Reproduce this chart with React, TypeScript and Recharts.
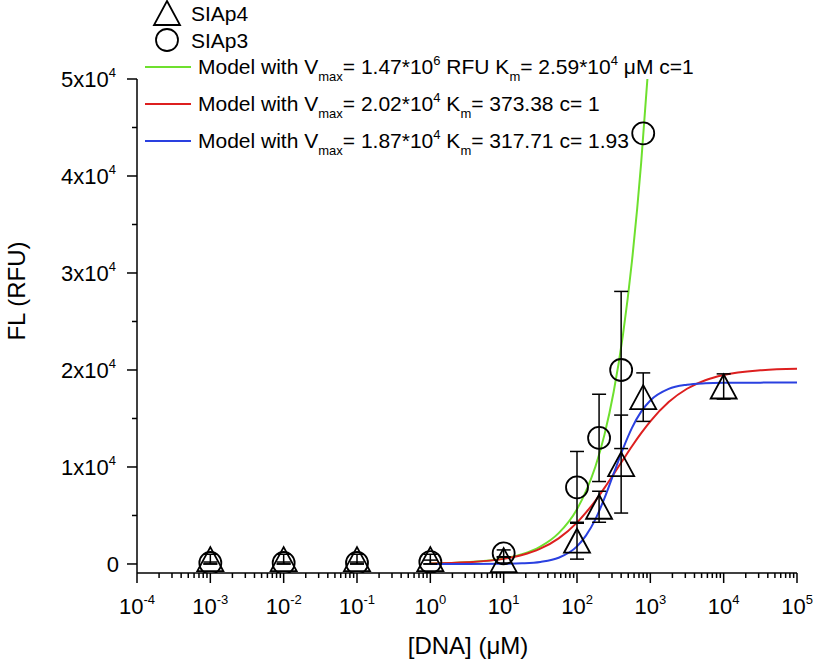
import React from 'react';
import { ComposedChart, Line, Scatter, ErrorBar, XAxis, YAxis } from 'recharts';

// measured data (SIAp3 = circles, SIAp4 = triangles)
const SIAP3_X = [0.001, 0.01, 0.1, 1, 10, 100, 200, 400, 800];
const SIAP3_Y = [100, 100, 100, 200, 1100, 7900, 13000, 20000, 44400];
const SIAP3_ERR = [100, 100, 100, 200, 350, 3700, 4500, 8100, null];

const SIAP4_X = [0.001, 0.01, 0.1, 1, 10, 100, 200, 400, 800, 10000];
const SIAP4_Y = [500, 500, 500, 500, 400, 2400, 5900, 10300, 17200, 18300];
const SIAP4_ERR = [500, 500, 500, 500, 300, 1900, 1600, 5050, 2500, 1300];

// model curves
const CURVE_X = [1, 3.16, 10, 17.8, 31.6, 56.2, 100, 133, 178, 237, 316, 422, 562, 750, 1000, 1778, 3162, 5623, 10000, 31623, 100000];
const RED_Y = [54, 170, 527, 918, 1577, 2644, 4267, 5317, 6516, 7845, 9262, 10714, 12139, 13485, 14708, 16694, 18066, 18942, 19473, 19964, 20125];
const BLUE_Y = [0, 3, 24, 71, 215, 639, 1815, 2950, 4601, 6779, 9309, 11845, 14038, 15707, 16857, 18050, 18481, 18627, 18676, 18697, 18700];
const GREEN_X = [1, 3.16, 10, 17.8, 31.6, 56.2, 100, 133, 178, 237, 316, 422, 562, 750, 912];
const GREEN_Y = [57, 179, 567, 1008, 1793, 3185, 5654, 7533, 10023, 13335, 17730, 23551, 31236, 41364, 50000];

// ticks
const X_DECADES = [1e-4, 1e-3, 1e-2, 1e-1, 1, 10, 100, 1000, 10000, 100000];
const X_EXPONENTS = ['-4', '-3', '-2', '-1', '0', '1', '2', '3', '4', '5'];
const X_MINOR_STEPS = [2, 3, 4, 5, 6, 7, 8, 9];
const Y_MAJOR = [0, 10000, 20000, 30000, 40000, 50000];
const Y_MAJOR_LABELS = ['0', '1x10', '2x10', '3x10', '4x10', '5x10'];
const Y_MINOR = [5000, 15000, 25000, 35000, 45000];

const COLORS = {
  green: '#6ee02e',
  red: '#dd1f1f',
  blue: '#2a40e0',
};

const FONT = '"Liberation Sans", Arial, Helvetica, sans-serif';
const X_AXIS_Y = 573;
const Y_AXIS_X = 137;

const siap3 = SIAP3_X.map((x, i) => ({ x, y: SIAP3_Y[i], err: SIAP3_ERR[i] }));
const siap4 = SIAP4_X.map((x, i) => ({ x, y: SIAP4_Y[i], err: SIAP4_ERR[i] }));
const red = CURVE_X.map((x, i) => ({ x, y: RED_Y[i] }));
const blue = CURVE_X.map((x, i) => ({ x, y: BLUE_Y[i] }));
const green = GREEN_X.map((x, i) => ({ x, y: GREEN_Y[i] }));

const xMinor = X_DECADES.slice(0, -1).flatMap(d => X_MINOR_STEPS.map(s => s * d));
const xTicks = [...X_DECADES, ...xMinor].sort((a, b) => a - b);
const yTicks = [...Y_MAJOR, ...Y_MINOR].sort((a, b) => a - b);

const XTick = (props: any) => {
  const { x, payload } = props;
  const idx = X_DECADES.findIndex(d => Math.abs(Math.log10(d) - Math.log10(payload.value)) < 1e-6);
  const major = idx >= 0;
  return (
    <g>
      <line x1={x} y1={X_AXIS_Y} x2={x} y2={X_AXIS_Y + (major ? 10 : 5)} stroke="#000" strokeWidth={1.5} />
      {major && (
        <text x={x} y={X_AXIS_Y + 41} textAnchor="middle" fontSize={22} fontFamily={FONT} fill="#000">
          10<tspan fontSize={13} dy={-10}>{X_EXPONENTS[idx]}</tspan>
        </text>
      )}
    </g>
  );
};

const YTick = (props: any) => {
  const { y, payload } = props;
  const idx = Y_MAJOR.indexOf(payload.value);
  const major = idx >= 0;
  return (
    <g>
      <line x1={Y_AXIS_X} y1={y} x2={Y_AXIS_X - (major ? 10 : 5)} y2={y} stroke="#000" strokeWidth={1.5} />
      {major && (
        <text x={idx === 0 ? 119 : 116} y={y + 8} textAnchor="end" fontSize={22} fontFamily={FONT} fill="#000">
          {Y_MAJOR_LABELS[idx]}
          {idx > 0 && <tspan fontSize={13} dy={-10}>4</tspan>}
        </text>
      )}
    </g>
  );
};

const Circle = (props: any) => (
  <circle cx={props.cx} cy={props.cy} r={11} fill="none" stroke="#000" strokeWidth={1.8} />
);

const Triangle = (props: any) => {
  const { cx, cy } = props;
  return (
    <path d={`M${cx},${cy - 12} L${cx + 13},${cy + 12} L${cx - 13},${cy + 12} Z`} fill="none" stroke="#000" strokeWidth={1.8} />
  );
};

const Overlay = () => (
  <svg width={815} height={664} style={{ position: 'absolute', left: 0, top: 0, pointerEvents: 'none' }} fontFamily={FONT}>
    {/* legend */}
    <path d="M167,1 L180,25 L154,25 Z" fill="none" stroke="#000" strokeWidth={1.8} />
    <text x={191} y={21} fontSize={21}>SIAp4</text>
    <circle cx={167} cy={40} r={11} fill="none" stroke="#000" strokeWidth={1.8} />
    <text x={191} y={48} fontSize={21}>SIAp3</text>

    <line x1={145} y1={67} x2={191} y2={67} stroke={COLORS.green} strokeWidth={2} />
    <text x={198} y={74} fontSize={21}>
      Model with V<tspan fontSize={13} dy={7}>max</tspan><tspan dy={-7}>= 1.47*10</tspan><tspan fontSize={13} dy={-9}>6</tspan><tspan dy={9}>{' RFU K'}</tspan><tspan fontSize={13} dy={7}>m</tspan><tspan dy={-7}>= 2.59*10</tspan><tspan fontSize={13} dy={-9}>4</tspan><tspan dy={9}>{' μM c=1'}</tspan>
    </text>

    <line x1={145} y1={104} x2={191} y2={104} stroke={COLORS.red} strokeWidth={2} />
    <text x={198} y={111} fontSize={21}>
      Model with V<tspan fontSize={13} dy={7}>max</tspan><tspan dy={-7}>= 2.02*10</tspan><tspan fontSize={13} dy={-9}>4</tspan><tspan dy={9}>{' K'}</tspan><tspan fontSize={13} dy={7}>m</tspan><tspan dy={-7}>= 373.38 c= 1</tspan>
    </text>

    <line x1={145} y1={141} x2={191} y2={141} stroke={COLORS.blue} strokeWidth={2} />
    <text x={198} y={148} fontSize={21}>
      Model with V<tspan fontSize={13} dy={7}>max</tspan><tspan dy={-7}>= 1.87*10</tspan><tspan fontSize={13} dy={-9}>4</tspan><tspan dy={9}>{' K'}</tspan><tspan fontSize={13} dy={7}>m</tspan><tspan dy={-7}>= 317.71 c= 1.93</tspan>
    </text>

    {/* axis titles */}
    <text transform="translate(25,291) rotate(-90)" textAnchor="middle" fontSize={24}>FL (RFU)</text>
    <text x={468} y={654} textAnchor="middle" fontSize={24}>[DNA] (μM)</text>
  </svg>
);

export default function App() {
  return (
    <div style={{ position: 'absolute', left: 0, top: 0, width: 815, height: 664, background: '#fff' }}>
      <ComposedChart width={815} height={664} margin={{ top: 79, right: 18, bottom: 31, left: 0 }}>
        <XAxis
          type="number"
          dataKey="x"
          scale="log"
          domain={[1e-4, 1e5]}
          ticks={xTicks}
          interval={0}
          tickLine={false}
          tick={XTick}
          axisLine={{ stroke: '#000', strokeWidth: 1.5 }}
          height={60}
          allowDataOverflow
        />
        <YAxis
          type="number"
          dataKey="y"
          domain={[-930, 50000]}
          ticks={yTicks}
          interval={0}
          tickLine={false}
          tick={YTick}
          axisLine={{ stroke: '#000', strokeWidth: 1.5 }}
          width={137}
          allowDataOverflow
        />
        <Line data={green} dataKey="y" type="monotone" dot={false} stroke={COLORS.green} strokeWidth={2} isAnimationActive={false} />
        <Line data={red} dataKey="y" type="monotone" dot={false} stroke={COLORS.red} strokeWidth={2} isAnimationActive={false} />
        <Line data={blue} dataKey="y" type="monotone" dot={false} stroke={COLORS.blue} strokeWidth={2} isAnimationActive={false} />
        <Scatter data={siap4} dataKey="y" shape={Triangle} isAnimationActive={false}>
          <ErrorBar dataKey="err" direction="y" width={7} stroke="#000" strokeWidth={1.5} />
        </Scatter>
        <Scatter data={siap3} dataKey="y" shape={Circle} isAnimationActive={false}>
          <ErrorBar dataKey="err" direction="y" width={7} stroke="#000" strokeWidth={1.5} />
        </Scatter>
      </ComposedChart>
      <Overlay />
    </div>
  );
}
